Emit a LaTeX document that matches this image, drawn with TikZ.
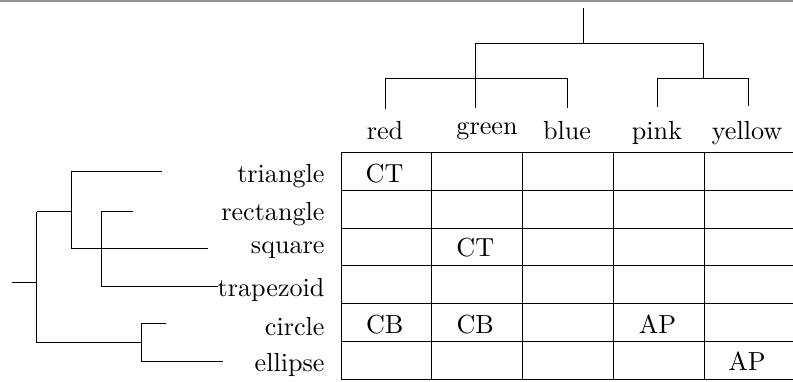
\documentclass[tikz,border=0pt]{standalone}
\begin{document}
\begin{tikzpicture}[x=0.41322pt,y=-0.41322pt,
  every node/.style={font=\fontsize{10.8pt}{13pt}\selectfont},
  lbl/.style={inner sep=0pt,anchor=base},
  rlbl/.style={inner sep=0pt,anchor=base east},
  tree/.style={line width=0.4pt},
  gridline/.style={line width=0.4pt}]
\useasboundingbox (0,0) rectangle (793,381);
% top border line
\coordinate (tl) at (0,0.7);
\coordinate (tr) at (793,0.7);
\draw[gray!85, line width=0.7pt] (tl) -- (tr);
% table grid
\foreach \yy in {152.5,190.3,228.1,265.9,303.7,341.5,379.3}
  \draw[gridline] (341,\yy) -- (796,\yy);
\foreach \xx in {341,431.9,522.8,613.7,704.6}
  \draw[gridline] (\xx,152.5) -- (\xx,379.3);
% column labels
\node[lbl] (red)    at (385,139.5) {red};
\node[lbl] (green)  at (487,134.3) {green};
\node[lbl] (blue)   at (567,139.8) {blue};
\node[lbl] (pink)   at (657,139.5) {pink};
\node[lbl] (yellow) at (747,139.5) {yellow};
% row labels
\node[rlbl] (triangle)  at (325,182.6) {triangle};
\node[rlbl] (rectangle) at (325,220.3) {rectangle};
\node[rlbl] (square)    at (325,253.5) {square};
\node[rlbl] (trapezoid) at (325,296.5) {trapezoid};
\node[rlbl] (circle)    at (325,335.5) {circle};
\node[rlbl] (ellipse)   at (325,371.7) {ellipse};
% cell entries
\node[lbl] (c11) at (384.5,182.3) {CT};
\node[lbl] (c32) at (475.3,256.6) {CT};
\node[lbl] (c51) at (384.7,333.5) {CB};
\node[lbl] (c52) at (475.3,333.5) {CB};
\node[lbl] (c54) at (657.5,333.5) {AP};
\node[lbl] (c65) at (747,370.7)   {AP};
% top tree
\coordinate (rt) at (583,8);
\coordinate (rj) at (583,43);
\coordinate (ja) at (475,43);
\coordinate (jb) at (703,43);
\coordinate (gl) at (475,108.3);
\coordinate (jb2) at (703,78);
\coordinate (rbl) at (385,78);
\coordinate (rbr) at (567,78);
\coordinate (rl) at (385,109.3);
\coordinate (bl) at (567,108.3);
\coordinate (pyl) at (657,78);
\coordinate (pyr) at (748,78);
\coordinate (pl) at (657,106.7);
\coordinate (yl) at (748,106);
\draw[tree] (rt) -- (rj);
\draw[tree] (ja) -- (jb);
\draw[tree] (ja) -- (gl);
\draw[tree] (jb) -- (jb2);
\draw[tree] (rl) -- (rbl) -- (rbr) -- (bl);
\draw[tree] (pl) -- (pyl) -- (pyr) -- (yl);
% left tree
\coordinate (lr0) at (11.7,282.3);
\coordinate (lr1) at (36.7,282.3);
\coordinate (lu) at (36.7,211.7);
\coordinate (ld) at (36.7,342.7);
\coordinate (lu2) at (71.7,211.7);
\coordinate (lt) at (71.7,171.4);
\coordinate (ls) at (71.7,248.3);
\coordinate (lte) at (162.3,171.4);
\coordinate (lse) at (207.7,248.3);
\coordinate (lrt) at (101.7,211);
\coordinate (lrb) at (101.7,286.7);
\coordinate (lre) at (132.7,211);
\coordinate (lze) at (218.3,286.7);
\coordinate (ld2) at (141.7,342.7);
\coordinate (lct) at (141.7,323.3);
\coordinate (lcb) at (141.7,361);
\coordinate (lce) at (165.7,323.3);
\coordinate (lee) at (223.3,361);
\draw[tree] (lr0) -- (lr1);
\draw[tree] (lu) -- (ld);
\draw[tree] (lu) -- (lu2);
\draw[tree] (lte) -- (lt) -- (ls) -- (lse);
\draw[tree] (lre) -- (lrt) -- (lrb) -- (lze);
\draw[tree] (ld) -- (ld2);
\draw[tree] (lce) -- (lct) -- (lcb) -- (lee);
\end{tikzpicture}
\end{document}
